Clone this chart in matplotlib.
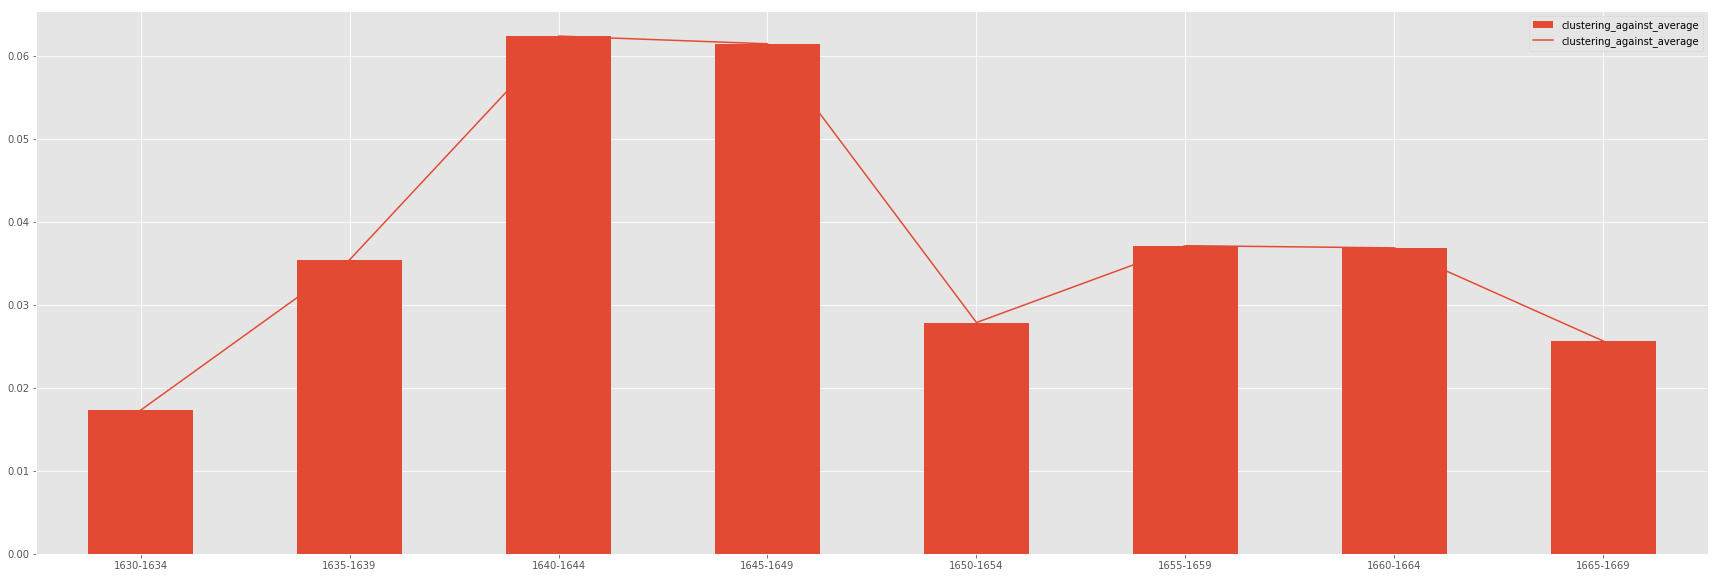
import matplotlib
matplotlib.use('Agg')
import matplotlib.pyplot as plt
import numpy as np

# Clustering against average per five-year period
periods = ['1630-1634', '1635-1639', '1640-1644', '1645-1649',
           '1650-1654', '1655-1659', '1660-1664', '1665-1669']
clustering = [0.01731, 0.03542, 0.06238, 0.06145, 0.02788, 0.03713, 0.03687, 0.02564]

plt.style.use('ggplot')

fig = plt.figure(figsize=(1721 / 72, 578 / 72), dpi=72)
ax = fig.add_axes([36 / 1721, 1 - 554 / 578, (1708 - 36) / 1721, (554 - 11) / 578])

x = np.arange(len(periods))
bars = ax.bar(x, clustering, width=0.5, color='#E24A33', zorder=2, label='clustering_against_average')
line, = ax.plot(x, clustering, color='#E24A33', zorder=1.5, label='clustering_against_average')

ax.set_xticks(x)
ax.set_xticklabels(periods)
ax.set_xlim(-0.5, len(periods) - 0.5)
ax.set_ylim(0, 0.0654)
# bar entry first, as in the original legend
ax.legend([bars, line], ['clustering_against_average', 'clustering_against_average'], loc='upper right')

fig.savefig('out.png', dpi=72)
